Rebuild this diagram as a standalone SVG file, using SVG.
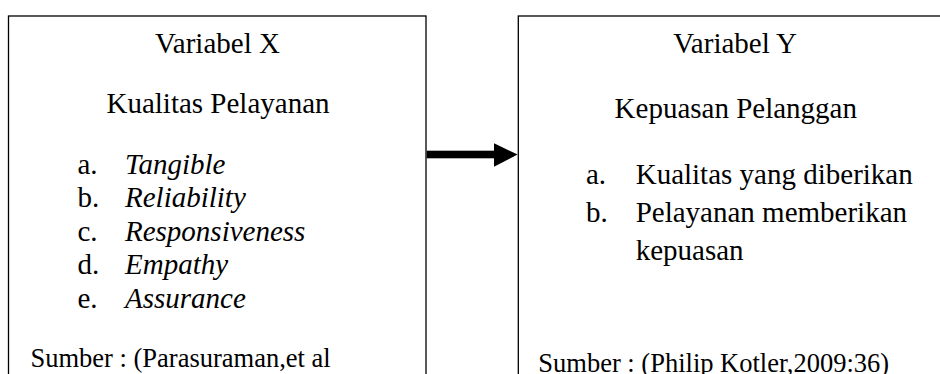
<svg xmlns="http://www.w3.org/2000/svg" width="940" height="374" viewBox="0 0 940 374">
<style>
.box{fill:#fff;stroke:#000;stroke-width:1.3}
text{font-family:"Liberation Serif","Times New Roman",serif;fill:#000}
.t{font-size:29px}
.s{font-size:26.5px}
.c{text-anchor:middle}
.i{font-style:italic}
</style>
<rect width="940" height="374" fill="#fff"/>
<g id="variabel-x">
<rect class="box" x="8.5" y="16" width="417.5" height="400"/>
<text class="t c" x="217.5" y="53.3">Variabel X</text>
<text class="t c" x="218" y="113.3">Kualitas Pelayanan</text>
<text class="t" x="77.5" y="173.5">a.</text><text class="t i" x="125" y="173.5">Tangible</text>
<text class="t" x="77.5" y="207">b.</text><text class="t i" x="125" y="207">Reliability</text>
<text class="t" x="77.5" y="240.5">c.</text><text class="t i" x="125" y="240.5">Responsiveness</text>
<text class="t" x="77.5" y="274">d.</text><text class="t i" x="125" y="274">Empathy</text>
<text class="t" x="77.5" y="307.5">e.</text><text class="t i" x="125" y="307.5">Assurance</text>
<text class="s" x="30.5" y="367.3">Sumber : (Parasuraman,et al</text>
</g>
<g id="variabel-y">
<rect class="box" x="518.3" y="16" width="434" height="400"/>
<text class="t c" x="735" y="53.3">Variabel Y</text>
<text class="t c" x="735.8" y="118.3">Kepuasan Pelanggan</text>
<text class="t" x="586" y="184.2">a.</text><text class="t" x="635.7" y="184.2">Kualitas yang diberikan</text>
<text class="t" x="586" y="222.3">b.</text><text class="t" x="635.7" y="222.3">Pelayanan memberikan</text>
<text class="t" x="635.7" y="260.2">kepuasan</text>
<text class="s" x="538.3" y="371.5">Sumber : (Philip Kotler,2009:36)</text>
</g>
<g id="connectors">
<rect x="426.7" y="150.7" width="68" height="7.6" fill="#000"/>
<polygon points="494,143.3 517.6,154.5 494,166.7" fill="#000"/>
</g>
</svg>
